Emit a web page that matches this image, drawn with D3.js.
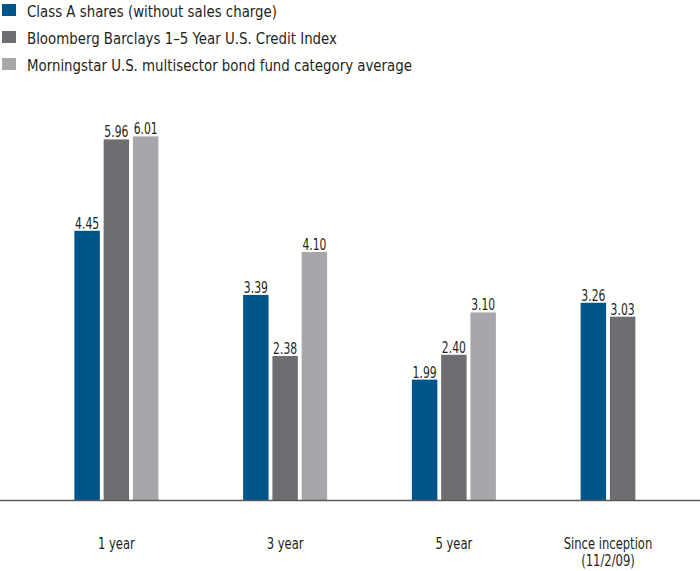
<!DOCTYPE html>
<html>
<head>
<meta charset="utf-8">
<script src="https://cdn.jsdelivr.net/npm/d3@7"></script>
<style>
  html, body { margin: 0; padding: 0; background: #ffffff; }
  svg { display: block; }
  text { font-family: "DejaVu Sans Condensed", "DejaVu Sans", sans-serif; font-stretch: condensed; fill: #231f20; }
</style>
</head>
<body>
<svg id="chart" width="700" height="571"></svg>
<script>
// ---- data ----
const categories = ["1 year", "3 year", "5 year", "Since inception\n(11/2/09)"];
const seriesNames = [
  "Class A shares (without sales charge)",
  "Bloomberg Barclays 1\u20135 Year U.S. Credit Index",
  "Morningstar U.S. multisector bond fund category average"
];
const classA      = [4.45, 3.39, 1.99, 3.26];
const bloomberg   = [5.96, 2.38, 2.40, 3.03];
const morningstar = [6.01, 4.10, 3.10, null];
const seriesValues = [classA, bloomberg, morningstar];
const colors = ["#00558b", "#6d6e71", "#a5a7aa"];

// ---- layout ----
const W = 700, H = 571;
const baseY = 500;
const svg = d3.select("#chart");

const x0 = d3.scaleBand().domain(categories).range([32, 707]).padding(0);
const x1 = d3.scaleBand().domain(seriesNames).range([-42, 42]).paddingInner(0.13).paddingOuter(0);
const y = d3.scaleLinear().domain([0, 7]).range([baseY, baseY - 7 * 60.5]);

// bars
const barData = [];
categories.forEach((c, i) => {
  seriesNames.forEach((s, j) => {
    const v = seriesValues[j][i];
    if (v != null) barData.push({ cat: c, series: s, j, value: v });
  });
});

const cx = d => x0(d.cat) + x0.bandwidth() / 2 + x1(d.series);

svg.append("g").selectAll("rect").data(barData).join("rect")
  .attr("x", cx)
  .attr("y", d => y(d.value))
  .attr("width", x1.bandwidth())
  .attr("height", d => y(0) - y(d.value))
  .attr("fill", d => colors[d.j]);

svg.append("g").selectAll("text").data(barData).join("text")
  .attr("transform", d => `translate(${cx(d) + x1.bandwidth() / 2},${y(d.value) - 2}) scale(0.8,1)`)
  .attr("text-anchor", "middle")
  .style("font-size", "15px")
  .text(d => d.value.toFixed(2));

// axis line
const xAxis = d3.axisBottom(x0).tickSize(0).tickFormat("");
const ax = svg.append("g").attr("transform", `translate(0,${baseY})`).call(xAxis);
ax.select(".domain").remove();
svg.append("line")
  .attr("x1", 0).attr("x2", W)
  .attr("y1", y(0) + 0.5).attr("y2", y(0) + 0.5)
  .attr("stroke", "#58595b").attr("stroke-width", 1.6);

// category labels centered under present bars
const catG = svg.append("g");
categories.forEach((c, i) => {
  const present = barData.filter(d => d.cat === c);
  const mid = d3.mean(present, d => cx(d) + x1.bandwidth() / 2);
  const t = catG.append("text")
    .attr("transform", `translate(${mid},549) scale(0.83,1)`)
    .attr("text-anchor", "middle")
    .style("font-size", "15.5px");
  c.split("\n").forEach((line, k) => {
    t.append("tspan").attr("x", 0).attr("dy", k === 0 ? 0 : 17.5).text(line);
  });
});

// legend
const lg = svg.append("g");
seriesNames.forEach((s, j) => {
  const yy = 17 + j * 27;
  lg.append("rect").attr("x", 2).attr("y", yy - 13).attr("width", 14).attr("height", 12).attr("fill", colors[j]);
  lg.append("text").attr("transform", `translate(27,${yy}) scale(0.9,1)`).style("font-size", "16.5px").text(s);
});
</script>
</body>
</html>
